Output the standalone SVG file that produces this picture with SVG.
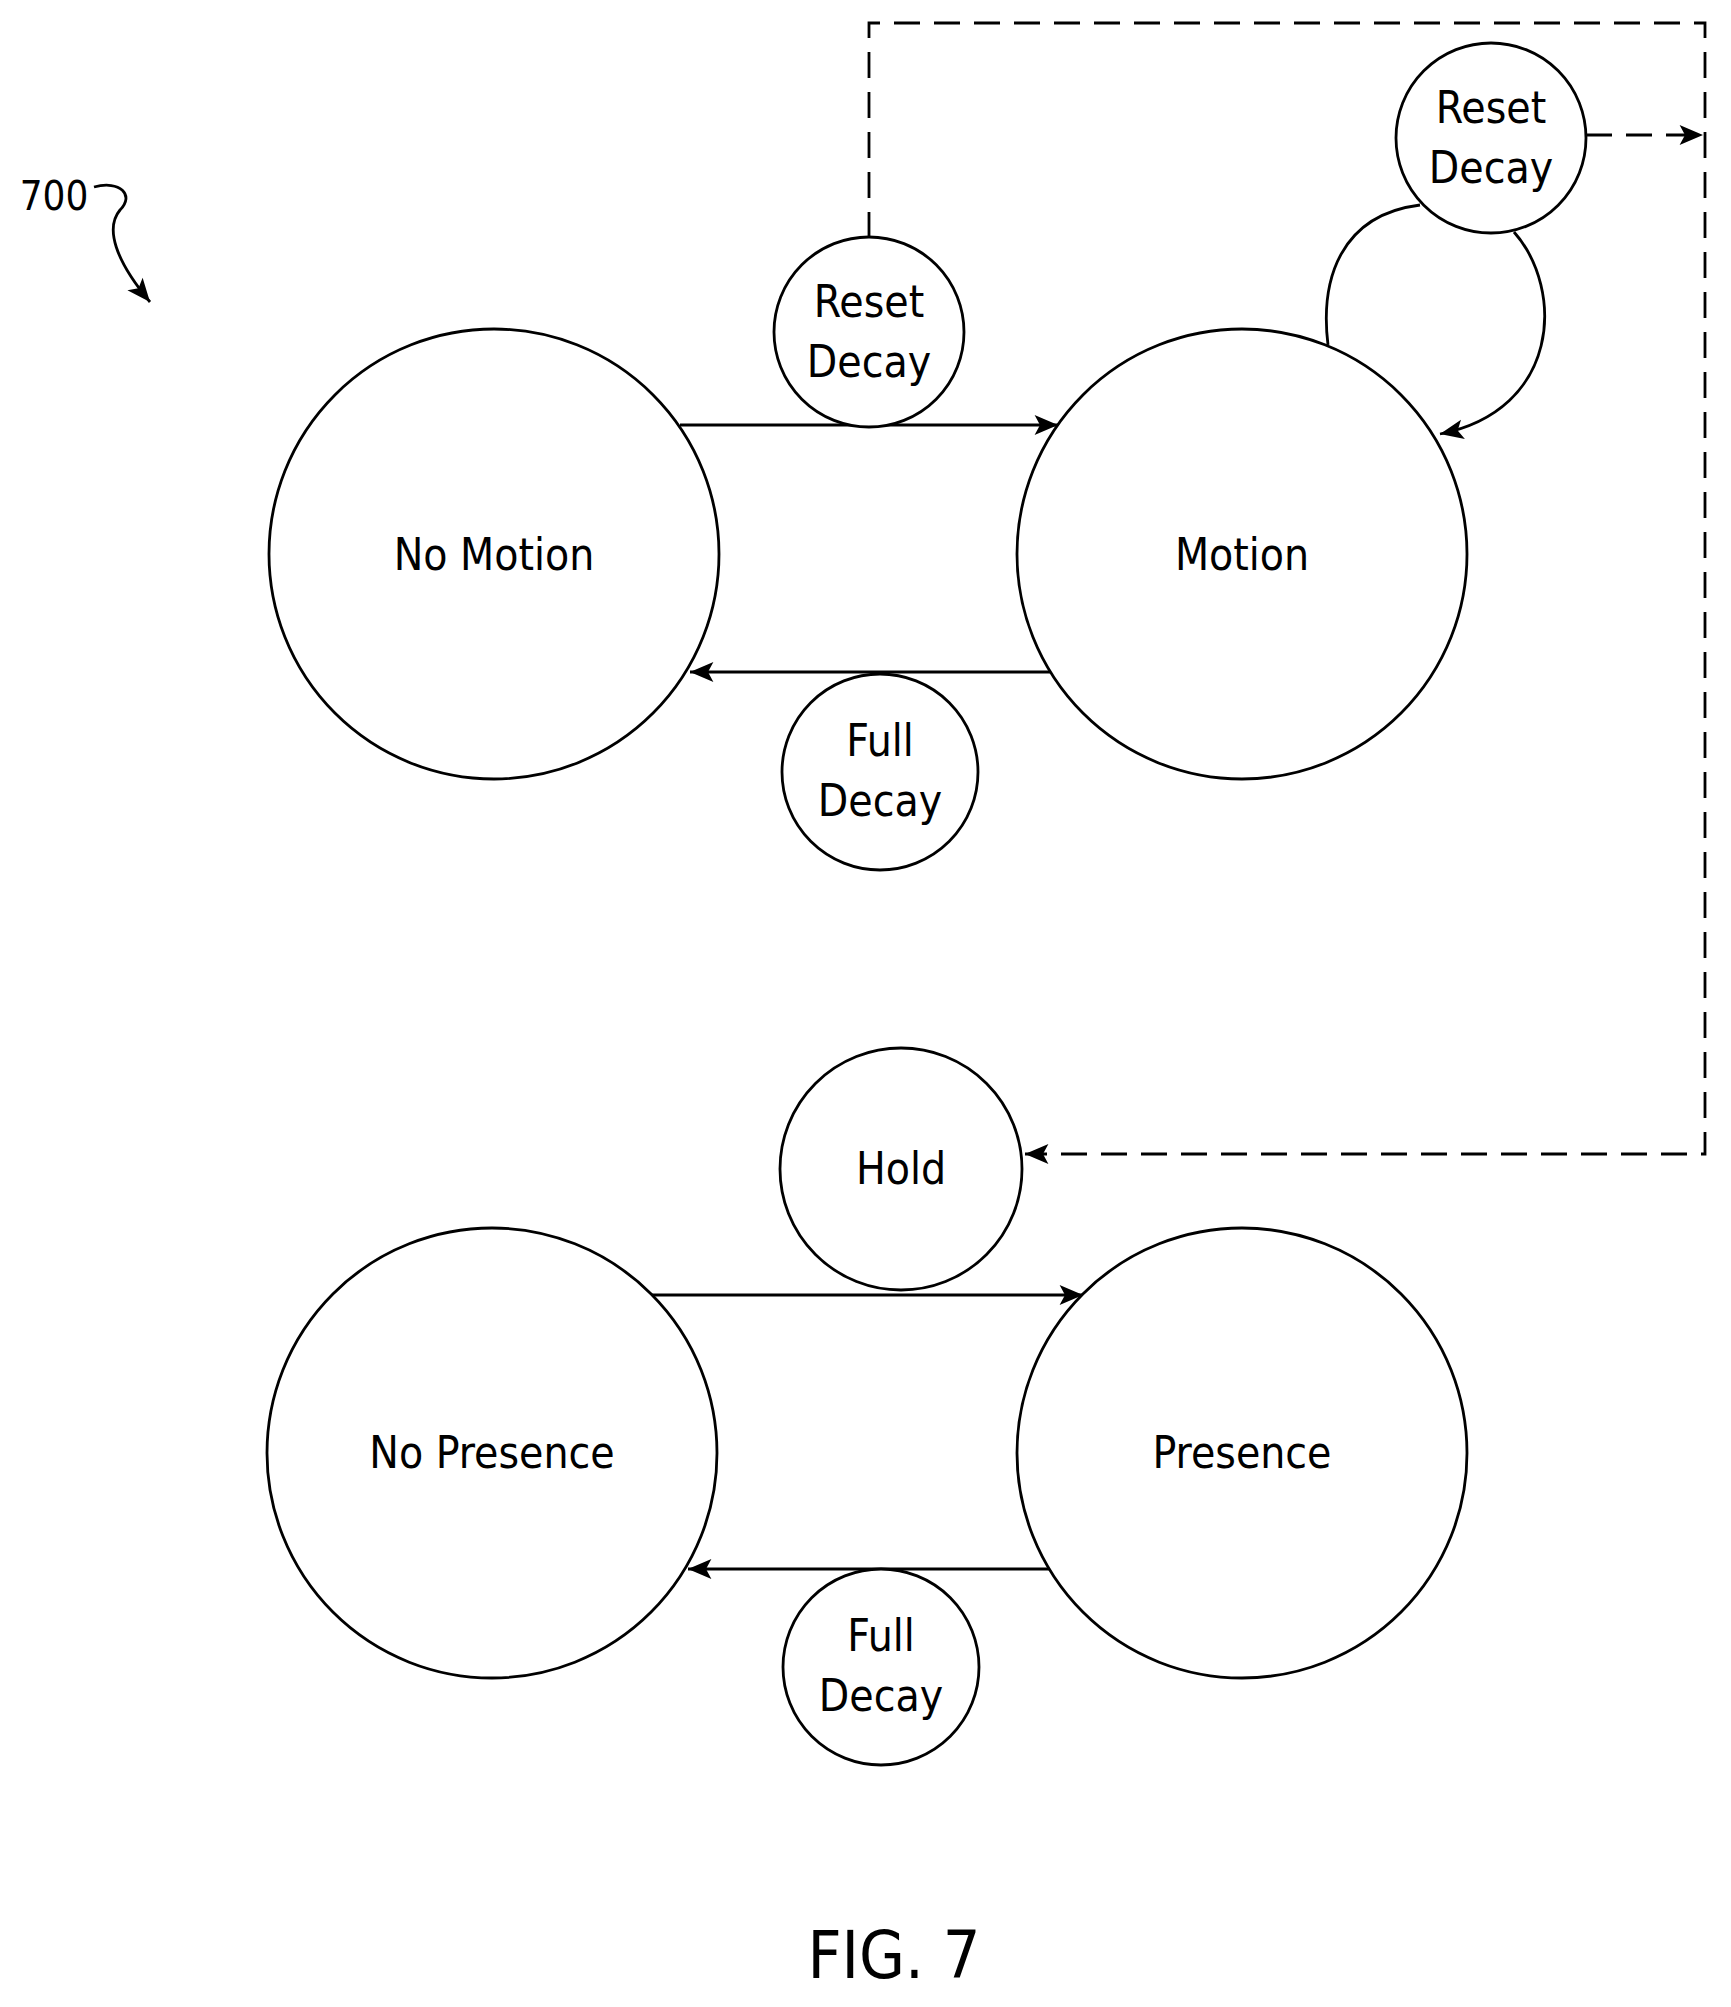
<svg xmlns="http://www.w3.org/2000/svg" width="1731" height="2007" viewBox="0 0 1731 2007">
<style>
circle{fill:#fff;stroke:#000;stroke-width:2.8}
text{font-family:"Liberation Sans Narrow","DejaVu Sans Condensed","Liberation Sans",sans-serif;font-size:44px;text-anchor:middle;fill:#000}
.c path,.c line,.c polyline{fill:none;stroke:#000;stroke-width:2.8}
.d{stroke-dasharray:26 14}
</style>
<defs><marker id="a" viewBox="0 0 10 10" refX="10" refY="5" markerWidth="9" markerHeight="9" markerUnits="userSpaceOnUse" orient="auto" style="overflow:visible"><path d="M0,0 L26,11 L0,22 L6,11 Z" transform="translate(-16,-6)" fill="#000"/></marker></defs>
<g class="c" id="connectors">
<line x1="680" y1="425" x2="1058" y2="425" marker-end="url(#a)"/>
<line x1="1050" y1="672" x2="690" y2="672" marker-end="url(#a)"/>
<path d="M1328,345 C1320,280 1340,215 1420,205"/>
<path d="M1514,232 C1565,290 1560,410 1440,434" marker-end="url(#a)"/>
<polyline class="d" points="869,238 869,23 1705,23 1705,1154 1025,1154" marker-end="url(#a)"/>
<line class="d" x1="1586" y1="135" x2="1703" y2="135" marker-end="url(#a)"/>
<line x1="652" y1="1295" x2="1083" y2="1295" marker-end="url(#a)"/>
<line x1="1055" y1="1569" x2="688" y2="1569" marker-end="url(#a)"/>
<path d="M94,187 C120,180 135,195 120,210 C105,228 115,260 150,302" marker-end="url(#a)"/>
</g>
<g id="nomotion"><circle cx="494" cy="554" r="225"/><text x="494" y="570">No Motion</text></g>
<g id="motion"><circle cx="1242" cy="554" r="225"/><text x="1242" y="570">Motion</text></g>
<g id="reset1"><circle cx="869" cy="332" r="95"/><text x="869" y="317">Reset</text><text x="869" y="377">Decay</text></g>
<g id="full1"><circle cx="880" cy="772" r="98"/><text x="880" y="756">Full</text><text x="880" y="816">Decay</text></g>
<g id="reset2"><circle cx="1491" cy="138" r="95"/><text x="1491" y="123">Reset</text><text x="1491" y="183">Decay</text></g>
<g id="hold"><circle cx="901" cy="1169" r="121"/><text x="901" y="1184">Hold</text></g>
<g id="nopresence"><circle cx="492" cy="1453" r="225"/><text x="492" y="1468">No Presence</text></g>
<g id="presence"><circle cx="1242" cy="1453" r="225"/><text x="1242" y="1468">Presence</text></g>
<g id="full2"><circle cx="881" cy="1667" r="98"/><text x="881" y="1651">Full</text><text x="881" y="1711">Decay</text></g>
<text x="54" y="210" style="font-size:40px">700</text>
<text x="894" y="1978" style="font-size:66px">FIG. 7</text>
</svg>
